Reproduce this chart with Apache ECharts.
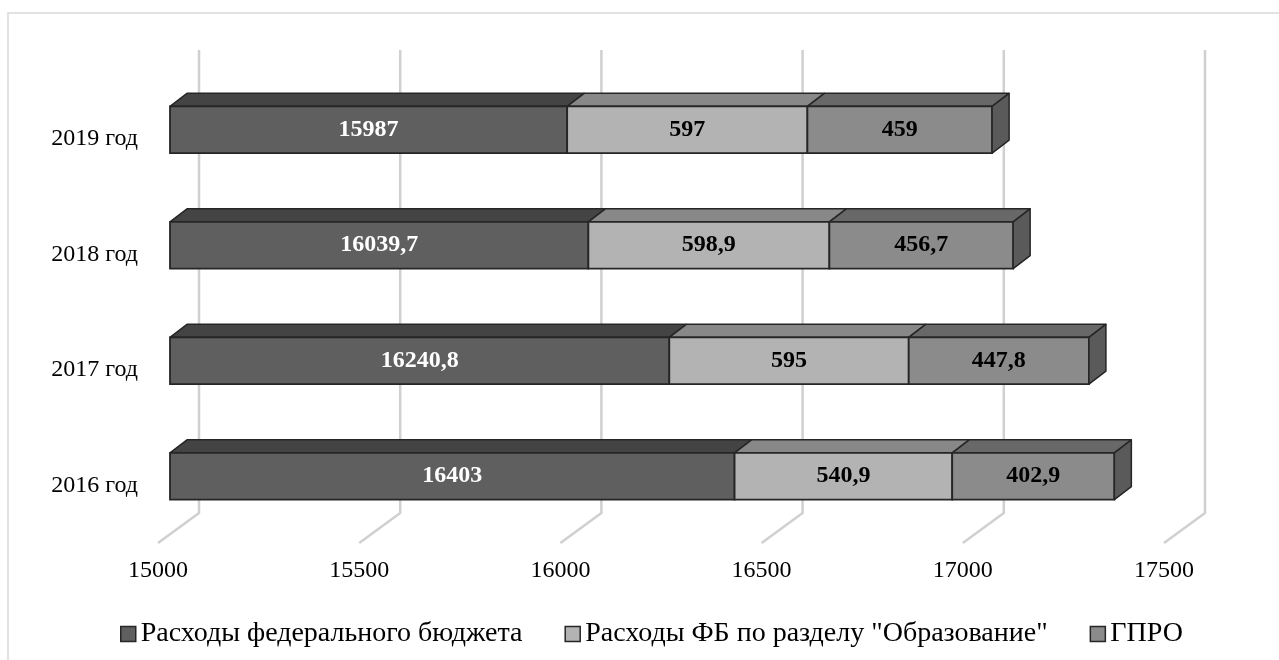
<!DOCTYPE html>
<html><head><meta charset="utf-8">
<script src="https://cdn.jsdelivr.net/npm/echarts@6/dist/echarts.min.js"></script>
<style>html,body{margin:0;padding:0;background:#fff}#c{width:1279px;height:660px}</style>
</head><body><div id="c"></div>
<script>
// ---- data ----
const categories = ['2016 год', '2017 год', '2018 год', '2019 год'];
const federalBudget = [16403, 16240.8, 16039.7, 15987];
const educationSection = [540.9, 595, 598.9, 597];
const gpro = [402.9, 447.8, 456.7, 459];
const seriesNames = ['Расходы федерального бюджета', 'Расходы ФБ по разделу "Образование"', 'ГПРО'];
const xTicks = [15000, 15500, 16000, 16500, 17000, 17500];
const axisMin = 15000, axisMax = 17500, axisStep = 500;

// ---- styles ----
const FONT = "'Liberation Serif', 'Times New Roman', 'DejaVu Serif', serif";
const BAR_DX = 12, BAR_DY = -9;     // bar front plane offset from floor front
const DEPTH_X = 17, DEPTH_Y = -13;  // bar depth
const BACK_DX = 41, BACK_DY = -30;  // back wall offset
const EDGE = '#262626';
const faces = [
  { front: '#5f5f5f', top: '#444444', side: '#3f3f3f', label: '#ffffff' },
  { front: '#b3b3b3', top: '#888888', side: '#777777', label: '#000000' },
  { front: '#8b8b8b', top: '#686868', side: '#5a5a5a', label: '#000000' }
];

function fmt(v) { return String(v).replace('.', ','); }

// stacked segments
const segs = [[], [], []];
categories.forEach((c, i) => {
  const s0 = axisMin, e0 = federalBudget[i];
  const e1 = e0 + educationSection[i];
  const e2 = e1 + gpro[i];
  segs[0].push([i, s0, e0, federalBudget[i]]);
  segs[1].push([i, e0, e1, educationSection[i]]);
  segs[2].push([i, e1, e2, gpro[i]]);
});

function makeRender(k, isLast) {
  const f = faces[k];
  return function (params, api) {
    const ci = api.value(0), s = api.value(1), e = api.value(2), v = api.value(3);
    const a = api.coord([s, ci]), b = api.coord([e, ci]);
    const band = api.size([0, 1])[1];
    const h = band * 0.405;
    const x0 = a[0] + BAR_DX, x1 = b[0] + BAR_DX, yc = a[1] + BAR_DY;
    const yt = yc - h / 2, yb = yc + h / 2;
    const children = [
      { type: 'polygon', shape: { points: [[x0, yt], [x1, yt], [x1 + DEPTH_X, yt + DEPTH_Y], [x0 + DEPTH_X, yt + DEPTH_Y]] },
        style: { fill: f.top, stroke: EDGE, lineWidth: 1.5, lineJoin: 'round' } },
      { type: 'rect', shape: { x: x0, y: yt, width: x1 - x0, height: h },
        style: { fill: f.front, stroke: EDGE, lineWidth: 1.8 } }
    ];
    if (isLast) {
      children.push({ type: 'polygon', shape: { points: [[x1, yt], [x1 + DEPTH_X, yt + DEPTH_Y], [x1 + DEPTH_X, yb + DEPTH_Y], [x1, yb]] },
        style: { fill: f.side, stroke: EDGE, lineWidth: 1.5, lineJoin: 'round' } });
    }
    children.push({ type: 'text', style: { text: fmt(v), x: (x0 + x1) / 2, y: yc, align: 'center', verticalAlign: 'middle',
      fill: f.label, font: 'bold 24px ' + FONT } });
    return { type: 'group', children };
  };
}

function renderGrid(params, api) {
  const v = api.value(0);
  const p = api.coord([v, 0]);
  const cs = params.coordSys;
  const yB = cs.y + cs.height;
  const xf = p[0];
  return {
    type: 'polyline',
    shape: { points: [[xf, yB], [xf + BACK_DX, yB + BACK_DY], [xf + BACK_DX, cs.y - 31]] },
    style: { stroke: '#d0d0d0', lineWidth: 2.5, fill: null, lineJoin: 'round' }
  };
}

const chart = echarts.init(document.getElementById('c'), null, { renderer: 'canvas' });
chart.setOption({
  backgroundColor: '#ffffff',
  animation: false,
  textStyle: { fontFamily: FONT },
  graphic: [{ type: 'rect', shape: { x: 8, y: 13, width: 1300, height: 700 },
    style: { fill: 'none', stroke: '#d9d9d9', lineWidth: 1.5 }, silent: true, z: -10 }],
  grid: { left: 158, top: 81, width: 1006, height: 462, containLabel: false },
  xAxis: {
    type: 'value', min: axisMin, max: axisMax, interval: axisStep,
    axisLine: { show: false }, axisTick: { show: false }, splitLine: { show: false },
    axisLabel: { color: '#000', fontSize: 24, fontFamily: FONT, margin: 16, formatter: v => String(v) }
  },
  yAxis: {
    type: 'category', data: categories,
    axisLine: { show: false }, axisTick: { show: false }, splitLine: { show: false },
    axisLabel: { color: '#000', fontSize: 24, fontFamily: FONT, margin: 20 }
  },
  legend: {
    data: seriesNames, left: 115, top: 615, itemGap: 42, itemWidth: 15, itemHeight: 15,
    icon: 'rect', itemStyle: { borderColor: '#262626', borderWidth: 1.5 },
    textStyle: { color: '#000', fontSize: 28, fontFamily: FONT },
    selectedMode: false
  },
  series: [
    { type: 'custom', name: 'grid', renderItem: renderGrid, data: xTicks.map(v => [v]), encode: { x: 0 }, z: 1, silent: true },
    { type: 'custom', name: seriesNames[0], renderItem: makeRender(0, false), data: segs[0], encode: { x: [1, 2], y: 0 }, itemStyle: { color: faces[0].front }, z: 2 },
    { type: 'custom', name: seriesNames[1], renderItem: makeRender(1, false), data: segs[1], encode: { x: [1, 2], y: 0 }, itemStyle: { color: faces[1].front }, z: 2 },
    { type: 'custom', name: seriesNames[2], renderItem: makeRender(2, true), data: segs[2], encode: { x: [1, 2], y: 0 }, itemStyle: { color: faces[2].front }, z: 2 }
  ]
});
</script></body></html>
